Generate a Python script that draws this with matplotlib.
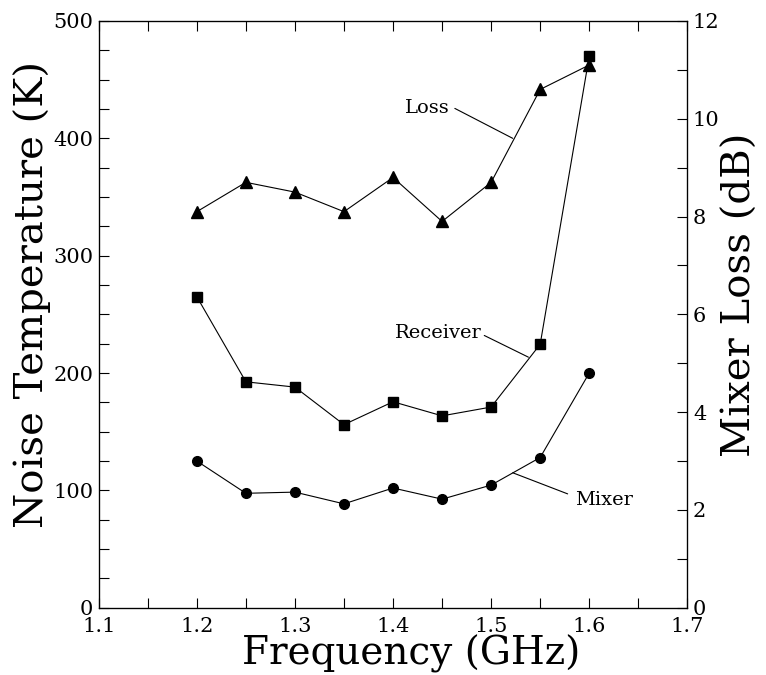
import matplotlib
matplotlib.use("Agg")
import matplotlib.pyplot as plt
from matplotlib.ticker import MultipleLocator

plt.rcParams['font.family'] = ['DejaVu Serif']

freq = [1.2, 1.25, 1.3, 1.35, 1.4, 1.45, 1.5, 1.55, 1.6]
receiver = [265, 192.5, 188, 156, 175.5, 163.5, 171, 224.5, 470]
mixer = [125, 97.5, 98.5, 88.5, 102, 92.5, 104.5, 128, 200]
loss_db = [8.1, 8.7, 8.5, 8.1, 8.8, 7.9, 8.7, 10.6, 11.1]

fig = plt.figure(figsize=(7.66, 6.75), dpi=100)
ax = fig.add_axes([0.1289, 0.0997, 0.8973 - 0.1289, 0.9689 - 0.0997])
ax2 = ax.twinx()

lw = 0.8
ax.plot(freq, receiver, color='black', lw=lw, marker='s', ms=7, mec='black', mfc='black')
ax.plot(freq, mixer, color='black', lw=lw, marker='o', ms=7, mec='black', mfc='black')
ax2.plot(freq, loss_db, color='black', lw=lw, marker='^', ms=8, mec='black', mfc='black')

ax.set_xlim(1.1, 1.7)
ax.set_ylim(0, 500)
ax2.set_ylim(0, 12)

ax.xaxis.set_major_locator(MultipleLocator(0.1))
ax.xaxis.set_minor_locator(MultipleLocator(0.05))
ax.yaxis.set_major_locator(MultipleLocator(100))
ax.yaxis.set_minor_locator(MultipleLocator(25))
ax2.yaxis.set_major_locator(MultipleLocator(2))
ax2.yaxis.set_minor_locator(MultipleLocator(1))

ax.tick_params(axis='x', which='both', direction='in', top=True, bottom=True)
ax.tick_params(axis='y', which='both', direction='in', left=True, right=False)
ax2.tick_params(axis='y', which='both', direction='in', right=True)
for a in (ax, ax2):
    a.tick_params(which='major', length=7.5, width=0.8, labelsize=15, pad=4)
    a.tick_params(which='minor', length=7.5, width=0.8)
ax.tick_params(axis='x', pad=7)
ax.set_xticklabels([f"{v:.1f}" for v in ax.get_xticks()])

for sp in ax.spines.values():
    sp.set_linewidth(0.9)

ax.set_xlabel('Frequency (GHz)', fontsize=28)
ax.set_ylabel('Noise Temperature (K)', fontsize=29)
ax2.set_ylabel('Mixer Loss (dB)', fontsize=29)
ax.xaxis.set_label_coords(0.53, -0.046)
ax.yaxis.set_label_coords(-0.113, 0.533)
ax2.yaxis.set_label_coords(1.09, 0.533)
ax.xaxis.label.set_va('top')
ax.yaxis.label.set_va('center')
ax2.yaxis.label.set_va('center')

ann_fs = 14
ax.text(1.458, 426, 'Loss', ha='right', va='center', fontsize=ann_fs)
ax.annotate('', xy=(1.522, 400), xytext=(1.463, 425.5),
            arrowprops=dict(arrowstyle='-', lw=lw, shrinkA=0, shrinkB=0))
ax.text(1.49, 234, 'Receiver', ha='right', va='center', fontsize=ann_fs)
ax.annotate('', xy=(1.538, 213.5), xytext=(1.493, 232),
            arrowprops=dict(arrowstyle='-', lw=lw, shrinkA=0, shrinkB=0))
ax.text(1.586, 92, 'Mixer', ha='left', va='center', fontsize=ann_fs)
ax.annotate('', xy=(1.522, 115), xytext=(1.578, 97),
            arrowprops=dict(arrowstyle='-', lw=lw, shrinkA=0, shrinkB=0))

fig.savefig('out.png', dpi=100)
